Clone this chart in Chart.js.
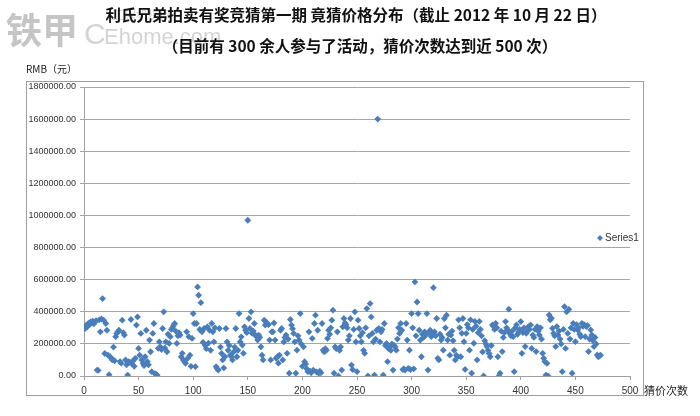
<!DOCTYPE html>
<html lang="zh">
<head>
<meta charset="UTF-8">
<title>竞猜价格分布</title>
<script src="https://cdn.jsdelivr.net/npm/chart.js@4.4.0/dist/chart.umd.min.js"></script>
<style>
  body { margin: 0; background: #fff; }
  canvas { display: block; }
</style>
</head>
<body>
<canvas id="myChart" width="700" height="416"></canvas>
<script>
// chart texts
const titleLine1 = '利氏兄弟拍卖有奖竞猜第一期 竟猜价格分布（截止 2012 年 10 月 22 日）';
const titleLine2 = '（目前有 300 余人参与了活动，猜价次数达到近 500 次）';
const yAxisTitle = 'RMB（元）';
const xAxisTitle = '猜价次数';
const seriesName = 'Series1';

// tick settings
const yTicks = [0, 200000, 400000, 600000, 800000, 1000000, 1200000, 1400000, 1600000, 1800000];
const xTicks = [0, 50, 100, 150, 200, 250, 300, 350, 400, 450, 500];

// guessed prices, in thousands of RMB, one per guess (guess 1 .. 473)
const pricesK = [
  296, 317, 306, 327, 320, 337, 330, 342, 325, 335,
  345, 37, 35, 350, 275, 355, 482, 348, 140, 327,
  285, 130, 8, 120, 110, 100, 180, 95, 245, 265,
  275, 285, 90, 80, 348, 270, 255, 100, 70, 6,
  90, 85, 352, 75, 95, 60, 110, 317, 368, 172,
  130, 265, 100, 80, 65, 120, 285, 90, 70, 224,
  151, 27, 265, 327, 15, 10, 6, 172, 213, 180,
  165, 296, 400, 175, 213, 151, 260, 203, 245, 290,
  300, 315, 327, 280, 203, 250, 270, 255, 120, 141,
  100, 90, 79, 275, 110, 245, 130, 60, 234, 389,
  327, 58, 327, 555, 503, 290, 457, 275, 210, 296,
  190, 170, 306, 205, 285, 160, 327, 275, 213, 300,
  58, 45, 37, 296, 180, 140, 100, 50, 120, 296,
  213, 160, 190, 130, 120, 100, 150, 180, 296, 120,
  160, 389, 213, 244, 193, 141, 306, 285, 270, 970,
  358, 296, 400, 265, 280, 327, 255, 245, 224, 255,
  240, 182, 130, 100, 348, 317, 335, 325, 320, 224,
  100, 275, 275, 330, 224, 110, 120, 80, 130, 285,
  296, 100, 213, 240, 255, 141, 230, 17, 352, 317,
  295, 265, 213, 17, 161, 250, 224, 389, 200, 60,
  182, 89, 75, 45, 27, 275, 30, 20, 234, 37,
  327, 379, 25, 285, 17, 30, 20, 327, 161, 150,
  170, 161, 234, 285, 260, 300, 348, 410, 17, 182,
  170, 275, 0, 160, 182, 37, 306, 358, 330, 320,
  300, 224, 250, 358, 68, 40, 290, 400, 213, 27,
  348, 296, 250, 213, 270, 160, 141, 300, 420, 0,
  250, 451, 368, 265, 213, 6, 230, 285, 1600, 296,
  213, 275, 290, 6, 327, 190, 203, 89, 170, 182,
  160, 200, 37, 190, 180, 161, 230, 300, 265, 327,
  285, 40, 45, 37, 327, 224, 48, 161, 40, 389,
  300, 45, 586, 250, 461, 389, 285, 224, 120, 260,
  240, 275, 255, 389, 37, 270, 285, 245, 265, 550,
  275, 250, 358, 110, 100, 260, 224, 240, 161, 358,
  300, 379, 224, 260, 130, 255, 280, 220, 160, 100,
  130, 120, 350, 300, 120, 266, 358, 214, 41, 265,
  320, 300, 161, 350, 17, 290, 204, 340, 310, 100,
  270, 340, 290, 250, 150, 0, 220, 200, 183, 160,
  140, 120, 190, 318, 310, 290, 328, 300, 120, 0,
  17, 280, 152, 240, 270, 339, 300, 287, 416, 265,
  250, 280, 245, 27, 300, 318, 260, 275, 290, 339,
  141, 270, 300, 183, 266, 280, 308, 290, 318, 172,
  255, 240, 290, 152, 308, 280, 256, 300, 230, 141,
  110, 90, 6, 79, 0, 380, 350, 360, 297, 266,
  250, 183, 308, 256, 280, 230, 200, 27, 290, 432,
  172, 400, 266, 415, 230, 300, 17, 328, 290, 214,
  320, 287, 300, 260, 245, 328, 310, 320, 245, 308,
  315, 152, 230, 287, 256, 220, 183, 240, 200, 131,
  120, 125, 130
];

const pointColor = '#4A7EBB';
const cjkFont = '"Noto Sans CJK SC", "Noto Sans", sans-serif';
const tickFont = '"Liberation Sans", Arial, sans-serif';

// scatter points: x = guess number, y = price in RMB
const points = pricesK.map((p, i) => ({ x: i + 1, y: p * 1000 }));

// frame, titles, watermark and legend drawn round the chart
const decorations = {
  id: 'decorations',
  beforeDraw(chart) {
    const ctx = chart.ctx;
    ctx.save();
    ctx.fillStyle = '#fff';
    ctx.fillRect(0, 0, chart.width, chart.height);
    ctx.strokeStyle = '#a0a0a0';
    ctx.lineWidth = 1;
    ctx.strokeRect(26.5, 81.5, 617, 314);
    ctx.restore();
  },
  afterDraw(chart) {
    const ctx = chart.ctx;
    ctx.save();

    // watermark
    ctx.fillStyle = 'rgba(150,150,150,0.55)';
    ctx.font = 'bold 36px ' + cjkFont;
    ctx.textBaseline = 'alphabetic';
    ctx.fillText('铁甲', 6, 44);
    ctx.fillStyle = 'rgba(170,170,170,0.5)';
    ctx.font = '30px ' + tickFont;
    ctx.fillText('C', 84, 44);
    ctx.font = '22px ' + tickFont;
    ctx.fillText('Ehome.com', 104, 44);
    ctx.font = '12px ' + cjkFont;
    ctx.fillText('工程机械网', 112, 20);

    // titles
    ctx.fillStyle = '#111';
    ctx.textAlign = 'center';
    ctx.textBaseline = 'middle';
    ctx.font = 'bold 15.5px ' + cjkFont;
    ctx.fillText(titleLine1, 356, 15);
    ctx.fillText(titleLine2, 360, 46);

    // axis titles
    ctx.textAlign = 'left';
    ctx.font = '10px ' + cjkFont;
    ctx.fillStyle = '#222';
    ctx.fillText(yAxisTitle, 26, 69);
    ctx.font = '11px ' + cjkFont;
    ctx.fillText(xAxisTitle, 644, 391);

    // legend
    ctx.fillStyle = pointColor;
    ctx.beginPath();
    ctx.moveTo(600, 235);
    ctx.lineTo(603, 238);
    ctx.lineTo(600, 241);
    ctx.lineTo(597, 238);
    ctx.closePath();
    ctx.fill();
    ctx.fillStyle = '#333';
    ctx.font = '10px ' + tickFont;
    ctx.fillText(seriesName, 605, 238);

    ctx.restore();
  }
};

const ctx = document.getElementById('myChart').getContext('2d');

const myChart = new Chart(ctx, {
  type: 'scatter',
  data: {
    datasets: [{
      label: seriesName,
      data: points,
      pointStyle: 'rectRot',
      pointRadius: 3.4,
      backgroundColor: pointColor,
      borderColor: pointColor,
      borderWidth: 0
    }]
  },
  options: {
    responsive: false,
    animation: false,
    layout: { padding: { left: 26, right: 70, top: 87, bottom: 20 } },
    plugins: {
      legend: { display: false },
      tooltip: { enabled: false }
    },
    scales: {
      x: {
        type: 'linear',
        min: 0,
        max: 500,
        afterBuildTicks: scale => { scale.ticks = xTicks.map(v => ({ value: v })); },
        afterFit: scale => { scale.height = 20; },
        border: { color: '#a0a0a0' },
        grid: { drawOnChartArea: false, tickLength: 4, color: '#a0a0a0' },
        ticks: {
          font: { family: tickFont, size: 10 },
          color: '#333',
          padding: 5,
          maxRotation: 0
        }
      },
      y: {
        min: 0,
        max: 1800000,
        afterBuildTicks: scale => { scale.ticks = yTicks.map(v => ({ value: v })); },
        afterFit: scale => { scale.width = 58; },
        border: { color: '#a0a0a0' },
        grid: { color: '#a6a6a6', tickLength: 4 },
        ticks: {
          font: { family: tickFont, size: 9 },
          color: '#333',
          padding: 4,
          callback: v => v.toFixed(2)
        }
      }
    }
  },
  plugins: [decorations]
});
</script>
</body>
</html>
